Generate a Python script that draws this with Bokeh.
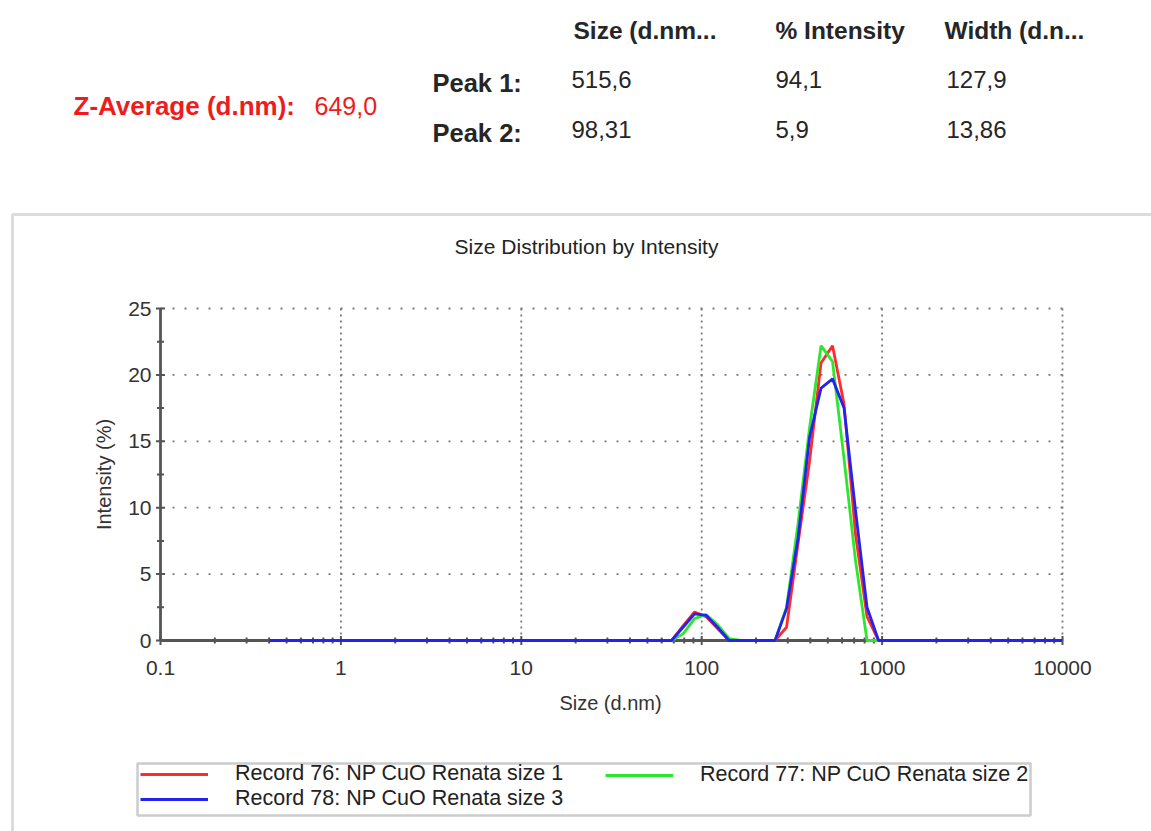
import math
from bokeh.plotting import figure
from bokeh.models import Label, Legend, LegendItem, BoxAnnotation, Range1d
from bokeh.core.properties import value
from bokeh.embed import file_html
from bokeh.resources import INLINE

# ---------------- data ----------------
sizes = [0.4, 0.4632, 0.5365, 0.6213, 0.7195, 0.8332, 0.9649, 1.117, 1.294, 1.499,
         1.736, 2.01, 2.328, 2.696, 3.122, 3.615, 4.187, 4.849, 5.615, 6.503,
         7.531, 8.721, 10.1, 11.7, 13.54, 15.69, 18.17, 21.04, 24.36, 28.21,
         32.67, 37.84, 43.82, 50.75, 58.77, 68.06, 78.82, 91.28, 105.7, 122.4,
         141.8, 164.2, 190.1, 220.2, 255.0, 295.3, 342.0, 396.1, 458.7, 531.2,
         615.1, 712.4, 825.0, 955.4, 1106, 1281, 1484, 1718, 1990, 2305,
         2669, 3091, 3580, 4145, 4801, 5560, 6439, 7456, 8635, 10000]

record76 = [0, 0, 0, 0, 0, 0, 0, 0, 0, 0,
            0, 0, 0, 0, 0, 0, 0, 0, 0, 0,
            0, 0, 0, 0, 0, 0, 0, 0, 0, 0,
            0, 0, 0, 0, 0, 0, 1.1, 2.15, 1.8, 0.9,
            0, 0, 0, 0, 0, 1.0, 7.3, 13.5, 20.9, 22.2,
            17.8, 8.0, 1.8, 0, 0, 0, 0, 0, 0, 0,
            0, 0, 0, 0, 0, 0, 0, 0, 0, 0]

record77 = [0, 0, 0, 0, 0, 0, 0, 0, 0, 0,
            0, 0, 0, 0, 0, 0, 0, 0, 0, 0,
            0, 0, 0, 0, 0, 0, 0, 0, 0, 0,
            0, 0, 0, 0, 0, 0, 0.5, 1.65, 1.95, 1.2,
            0.15, 0, 0, 0, 0, 2.5, 8.8, 16.0, 22.2, 21.0,
            13.7, 6.0, 0, 0, 0, 0, 0, 0, 0, 0,
            0, 0, 0, 0, 0, 0, 0, 0, 0, 0]

record78 = [0, 0, 0, 0, 0, 0, 0, 0, 0, 0,
            0, 0, 0, 0, 0, 0, 0, 0, 0, 0,
            0, 0, 0, 0, 0, 0, 0, 0, 0, 0,
            0, 0, 0, 0, 0, 0, 1.0, 2.0, 1.9, 1.0,
            0, 0, 0, 0, 0, 2.4, 7.7, 15.3, 19.0, 19.7,
            17.5, 9.8, 2.5, 0, 0, 0, 0, 0, 0, 0,
            0, 0, 0, 0, 0, 0, 0, 0, 0, 0]

series_names = ["Record 76: NP CuO Renata size 1",
                "Record 77: NP CuO Renata size 2",
                "Record 78: NP CuO Renata size 3"]
series_colors = ["#ff2a2a", "#2ee62e", "#2323f0"]

x_ticks = [0.1, 1, 10, 100, 1000, 10000]
x_tick_labels = ["0.1", "1", "10", "100", "1000", "10000"]
y_ticks = [0, 5, 10, 15, 20, 25]
y_tick_labels = ["0", "5", "10", "15", "20", "25"]
y_minor = [2.5, 7.5, 12.5, 17.5, 22.5]
x_minor = [m * 10.0 ** e for e in range(-1, 4) for m in range(2, 10)]

header_cols = ["Size (d.nm...", "% Intensity", "Width (d.n..."]
peak_names = ["Peak 1:", "Peak 2:"]
peak_size = ["515,6", "98,31"]
peak_intensity = ["94,1", "5,9"]
peak_width = ["127,9", "13,86"]
z_avg_label = "Z-Average (d.nm):"
z_avg_value = "649,0"
chart_title = "Size Distribution by Intensity"
x_label = "Size (d.nm)"
y_label = "Intensity (%)"

FONT = "Liberation Sans"
TXT = "#262626"
AXC = "#555555"

# ---------------- geometry (pixels) ----------------
W, H = 1151, 831
FL, FR, FT, FB = 160, 1062, 308, 640          # where the axes box sits
x0, x1 = x_ticks[0], x_ticks[-1]
y0, y1 = y_ticks[0], y_ticks[-1]
px_per_dec = (FR - FL) / (math.log10(x1) - math.log10(x0))
px_per_unit = (FB - FT) / (y1 - y0)
xmin = 10 ** (math.log10(x0) - FL / px_per_dec)
xmax = 10 ** (math.log10(x1) + (W - FR) / px_per_dec)
ymax = y0 + FB / px_per_unit
ymin = y0 - (H - FB) / px_per_unit

p = figure(width=W, height=H, x_axis_type="log",
           x_range=Range1d(xmin, xmax), y_range=Range1d(ymin, ymax),
           output_backend="svg", toolbar_location=None,
           x_axis_location=None, y_axis_location=None,
           min_border=0, outline_line_color=None,
           background_fill_color="white", border_fill_color="white")
p.xgrid.visible = False
p.ygrid.visible = False


def sx(px):
    return px


def sy(py):
    return H - py


# ---- grid lines (dotted) ----
p.segment(x0=x_ticks[1:], y0=[y0] * 5, x1=x_ticks[1:], y1=[y1] * 5,
          line_color="#7a7a7a", line_width=1.8, line_dash="2 4")
p.segment(x0=[x0] * 5, y0=y_ticks[1:], x1=[x1] * 5, y1=y_ticks[1:],
          line_color="#7a7a7a", line_width=1.8, line_dash="2 10")

# ---- axes lines ----
p.segment(x0=[x0, x0], y0=[y0, y0], x1=[x1, x0], y1=[y0, y1],
          line_color=AXC, line_width=2.8)
# ticks crossing the axes
p.scatter(x=[x0] * len(y_ticks), y=y_ticks, marker="dash", size=9,
          line_color=AXC, line_width=2)
p.scatter(x=[x0] * len(y_minor), y=y_minor, marker="dash", size=7,
          line_color=AXC, line_width=2)
p.scatter(x=x_ticks, y=[y0] * len(x_ticks), marker="dash", size=9,
          angle=math.pi / 2, line_color=AXC, line_width=2)
p.scatter(x=x_minor, y=[y0] * len(x_minor), marker="dash", size=6,
          angle=math.pi / 2, line_color=AXC, line_width=2)

# tick labels
p.text(x=x_ticks, y=[y0] * len(x_ticks), text=x_tick_labels, y_offset=27,
       text_font=value(FONT), text_font_size="21px", text_color="#333333",
       text_align="center", text_baseline="middle")
p.text(x=[x0] * len(y_ticks), y=y_ticks, text=y_tick_labels, x_offset=-9,
       text_font=value(FONT), text_font_size="21px", text_color="#333333",
       text_align="right", text_baseline="middle")

# ---- data ----
renderers = []
for ys, c in zip([record76, record77, record78], series_colors):
    r = p.line(sizes, ys, line_color=c, line_width=2.8)
    renderers.append(r)


def add_text(txt, px, py, size="24px", bold=False, color=TXT, align="left", angle=0.0):
    p.add_layout(Label(x=sx(px), y=sy(py), x_units="screen", y_units="screen",
                       text=txt, text_font=FONT, text_font_size=size,
                       text_font_style="bold" if bold else "normal",
                       text_color=color, text_baseline="middle", text_align=align,
                       angle=angle))


add_text(x_label, 610, 702, size="20px", align="center", color="#333333")
add_text(y_label, 103, 474, size="20px", align="center", color="#333333",
         angle=math.pi / 2)
add_text(chart_title, 586, 246, size="21px", align="center", color="#222222")

# ---- legend (two columns) ----
leg_common = dict(glyph_width=68, glyph_height=20, label_standoff=27,
                  label_height=20, padding=2, spacing=0, margin=0,
                  label_text_font=FONT, label_text_font_size="21.5px",
                  label_text_color="#222222", border_line_alpha=0,
                  background_fill_alpha=0)
leg1 = Legend(items=[LegendItem(label=series_names[0], renderers=[renderers[0]]),
                     LegendItem(label=series_names[2], renderers=[renderers[2]])],
              location=(sx(138), sy(813)), **leg_common)
leg2 = Legend(items=[LegendItem(label=series_names[1], renderers=[renderers[1]])],
              location=(sx(603), sy(789)), **leg_common)
p.add_layout(leg1)
p.add_layout(leg2)

legend_box = BoxAnnotation(left=sx(137), right=sx(1030), top=sy(763), bottom=sy(815),
                           left_units="screen", right_units="screen",
                           top_units="screen", bottom_units="screen",
                           fill_alpha=0, line_color=AXC, line_width=2.5)
p.add_layout(legend_box)

outer_box = BoxAnnotation(left=sx(12), right=sx(1190), top=sy(214), bottom=sy(880),
                          left_units="screen", right_units="screen",
                          top_units="screen", bottom_units="screen",
                          fill_alpha=0, line_color="#8c8c8c", line_width=3)
p.add_layout(outer_box)

# ---- header table ----
col_x = [573, 775, 944]
for t, x in zip(header_cols, col_x):
    add_text(t, x, 30, size="24.5px", bold=True)
row_y = [79, 129]
for i, y in enumerate(row_y):
    add_text(peak_names[i], 432, y + 3, size="25.5px", bold=True)
    add_text(peak_size[i], 571, y)
    add_text(peak_intensity[i], 775, y)
    add_text(peak_width[i], 946, y)
add_text(z_avg_label, 73, 105, size="26px", bold=True, color="#ee1c1c")
add_text(z_avg_value, 314, 105, size="25px", color="#ee1c1c")

open("out.html", "w").write(file_html(p, INLINE))
